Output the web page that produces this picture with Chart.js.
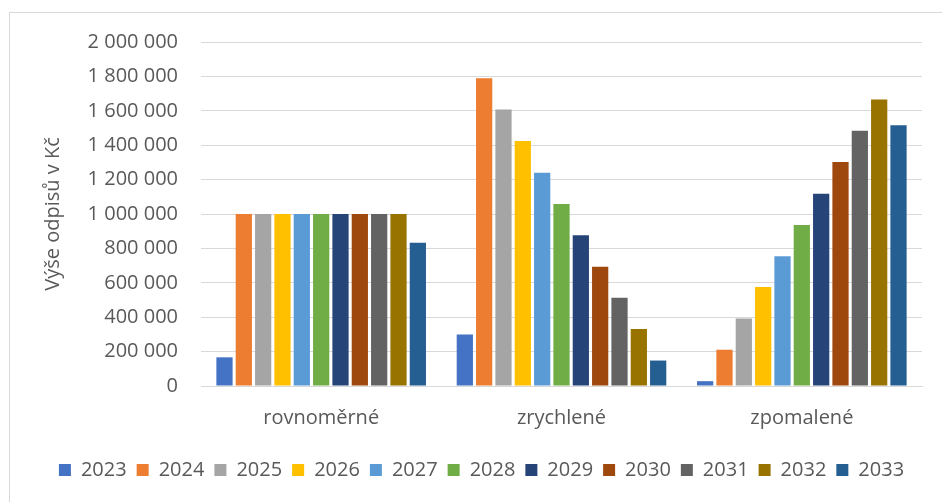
<!DOCTYPE html>
<html lang="cs">
<head>
  <meta charset="UTF-8">
  <title>Výše odpisů v Kč</title>
  <script src="https://cdn.jsdelivr.net/npm/chart.js"></script>
  <style>
    body {
      margin: 0;
      background-color: #ffffff;
      font-family: "Open Sans", Arial, sans-serif;
    }
    #frame {
      position: absolute;
      left: 9px;
      top: 12px;
      width: 945px;
      height: 500px;
      border: 1px solid #d9d9d9;
    }
    #odpisyChart {
      position: absolute;
      left: 0;
      top: 0;
    }
  </style>
</head>
<body>
  <div id="frame"></div>
  <canvas id="odpisyChart" width="942" height="502"></canvas>

  <script>
    // Kategorie a roky
    const metody = ['rovnoměrné', 'zrychlené', 'zpomalené'];
    const roky = ['2023', '2024', '2025', '2026', '2027', '2028', '2029', '2030', '2031', '2032', '2033'];

    // Hodnoty odpisů podle metody (2023 ... 2033)
    const rovnomerne = [166667, 1000000, 1000000, 1000000, 1000000, 1000000, 1000000, 1000000, 1000000, 1000000, 833333];
    const zrychlene = [300000, 1789000, 1607000, 1425000, 1240000, 1058000, 877000, 694000, 513000, 332000, 148000];
    const zpomalene = [28000, 211000, 393000, 575000, 755000, 936000, 1118000, 1303000, 1484000, 1665000, 1516000];

    const barvy = ['#4472C4', '#ED7D31', '#A5A5A5', '#FFC000', '#5B9BD5', '#70AD47',
                   '#264478', '#9E480E', '#636363', '#997300', '#255E91'];

    const datasets = roky.map((rok, i) => ({
      label: rok,
      data: [rovnomerne[i], zrychlene[i], zpomalene[i]],
      backgroundColor: barvy[i],
      borderWidth: 0
    }));

    function formatCislo(v) {
      return v.toString().replace(/\B(?=(\d{3})+(?!\d))/g, ' ');
    }

    const pismo = { size: 20, family: '"Open Sans", Arial, sans-serif' };

    const ctx = document.getElementById('odpisyChart').getContext('2d');
    new Chart(ctx, {
      type: 'bar',
      data: { labels: metody, datasets: datasets },
      options: {
        responsive: false,
        animation: false,
        layout: { padding: { left: 41, right: 20, top: 42, bottom: 12 } },
        plugins: {
          legend: {
            position: 'bottom',
            labels: {
              color: '#595959',
              font: pismo,
              boxWidth: 12,
              boxHeight: 12,
              padding: 10
            }
          },
          tooltip: { enabled: false }
        },
        datasets: {
          bar: { categoryPercentage: 0.885, barPercentage: 0.84 }
        },
        scales: {
          y: {
            min: 0,
            max: 2000000,
            ticks: {
              stepSize: 200000,
              color: '#595959',
              font: pismo,
              padding: 23,
              callback: v => formatCislo(v)
            },
            grid: { color: '#d9d9d9', lineWidth: 1, drawTicks: false },
            border: { display: false },
            title: {
              display: true,
              text: 'Výše odpisů v Kč',
              color: '#595959',
              font: pismo,
              padding: { top: 0, bottom: 0 }
            },
            afterFit: scale => { scale.width = 160; }
          },
          x: {
            ticks: {
              color: '#595959',
              font: pismo,
              padding: 20,
              maxRotation: 0
            },
            grid: { display: false, drawTicks: false },
            border: { display: true, color: '#d9d9d9', width: 1 },
            afterFit: scale => { scale.height = 64; }
          }
        }
      }
    });
  </script>
</body>
</html>
